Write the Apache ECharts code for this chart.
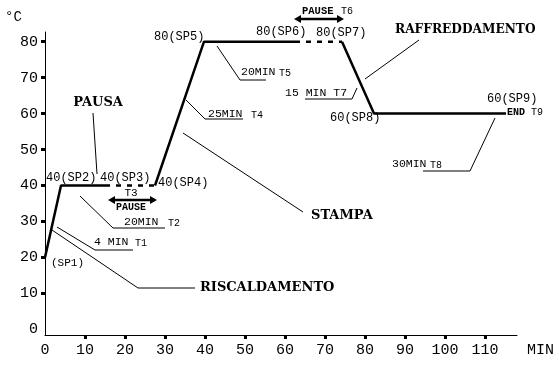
<!DOCTYPE html>
<html>
<head>
<meta charset="utf-8">
<script src="https://cdn.jsdelivr.net/npm/echarts@6/dist/echarts.min.js"></script>
<style>
html,body{margin:0;padding:0;background:#fff;}
#chart{width:559px;height:369px;}
</style>
</head>
<body>
<div id="chart"></div>
<script>
// Set points of the thermal cycle (time in MIN, temperature in °C)
const spTime = [0, 4, 15, 27.5, 39.75, 62.5, 74.25, 82.25, 115.25];
const spTemp = [20, 40, 40, 40, 80, 80, 80, 60, 60];
// Runs of set points: solid = process, dashed = pause
const runs = [
  { from: 0, to: 2, dashed: false },
  { from: 2, to: 3, dashed: true },
  { from: 3, to: 5, dashed: false },
  { from: 5, to: 6, dashed: true },
  { from: 6, to: 8, dashed: false }
];
const xTicks = [0, 10, 20, 30, 40, 50, 60, 70, 80, 90, 100, 110];
const yTicks = [0, 10, 20, 30, 40, 50, 60, 70, 80];

const MONO = '"Liberation Mono", monospace';
const SERIF = '"DejaVu Serif", serif';

const chart = echarts.init(document.getElementById('chart'), null, { renderer: 'canvas' });

const series = runs.map(r => {
  const d = [];
  for (let i = r.from; i <= r.to; i++) d.push([spTime[i], spTemp[i]]);
  return {
    type: 'line',
    data: d,
    symbol: 'none',
    silent: true,
    lineStyle: { color: '#000', width: 2.5, type: r.dashed ? [5, 6] : 'solid', cap: 'butt' }
  };
});

function txt(text, x, y, font, align) {
  return { type: 'text', silent: true, style: { text: text, x: x, y: y, font: font, fill: '#000', align: align || 'left', verticalAlign: 'middle' } };
}
function pl(points, w) {
  return { type: 'polyline', silent: true, shape: { points: points }, style: { stroke: '#000', lineWidth: w || 1, fill: null } };
}
function arrow(x1, x2, y) {
  return [
    pl([[x1 + 4, y], [x2 - 4, y]], 2.5),
    { type: 'polygon', silent: true, shape: { points: [[x1, y], [x1 + 7, y - 4], [x1 + 7, y + 4]] }, style: { fill: '#000' } },
    { type: 'polygon', silent: true, shape: { points: [[x2, y], [x2 - 7, y - 4], [x2 - 7, y + 4]] }, style: { fill: '#000' } }
  ];
}

const F_SP = '12px ' + MONO;
const F_SM = '11px ' + MONO;
const F_MIN = '11.5px ' + MONO;
const F_T = '10px ' + MONO;
const F_B = 'bold 13px ' + SERIF;

const graphics = [
  txt('°C', 5, 17, '14px ' + MONO),
  txt('MIN', 527, 350, '15px ' + MONO),
  // set point labels
  txt('(SP1)', 51, 263, F_SM),
  txt('40(SP2)', 46, 178, F_SP),
  txt('40(SP3)', 100, 178, F_SP),
  txt('40(SP4)', 158, 183, F_SP),
  txt('80(SP5)', 154, 37, F_SP),
  txt('80(SP6)', 256, 32, F_SP),
  txt('80(SP7)', 316, 33, F_SP),
  txt('60(SP8)', 330, 118, F_SP),
  txt('60(SP9)', 487, 99, F_SP),
  txt('END', 507, 112, 'bold 10px ' + MONO),
  txt('T9', 531, 112, F_T),
  // PAUSA
  txt('PAUSA', 98, 103, F_B, 'center'),
  pl([[93, 113], [97, 174]]),
  // T3 pause
  txt('T3', 131, 193, F_SM, 'center'),
  txt('PAUSE', 131, 207, 'bold 10px ' + MONO, 'center'),
  // 20MIN T2
  pl([[80, 196], [113, 228], [165, 228]]),
  txt('20MIN', 124, 222, F_MIN),
  txt('T2', 168, 223, F_T),
  // 4 MIN T1
  pl([[57, 227], [95, 250], [133, 250]]),
  txt('4 MIN', 94, 242, F_MIN),
  txt('T1', 135, 243, F_T),
  // RISCALDAMENTO
  pl([[52, 230], [138, 288], [195, 288]]),
  txt('RISCALDAMENTO', 200, 288, F_B),
  // 25MIN T4
  pl([[186, 100], [205, 119], [243, 119]]),
  txt('25MIN', 208, 114, F_MIN),
  txt('T4', 251, 115, F_T),
  // 20MIN T5
  pl([[217, 46], [240, 80], [266, 80]]),
  txt('20MIN', 241, 72, F_MIN),
  txt('T5', 279, 73, F_T),
  // STAMPA
  pl([[183, 133], [303, 212]]),
  txt('STAMPA', 311, 216, F_B),
  // PAUSE T6
  txt('PAUSE', 302, 11, 'bold 10.5px ' + MONO),
  txt('T6', 341, 11, F_T),
  // 15 MIN T7
  txt('15 MIN T7', 285, 93, F_MIN),
  pl([[305, 99], [352, 99], [357, 88]]),
  // RAFFREDDAMENTO
  pl([[365, 79], [419, 40]]),
  txt('RAFFREDDAMENTO', 395, 30, 'bold 12.2px ' + SERIF),
  // 30MIN T8
  pl([[495, 118], [470, 171], [423, 171]]),
  txt('30MIN', 392, 164, F_MIN),
  txt('T8', 430, 165, F_T)
].concat(arrow(108, 157, 200)).concat(arrow(294, 344, 19));

chart.setOption({
  animation: false,
  backgroundColor: '#fff',
  grid: { left: 45, right: 42, top: 32, bottom: 34, containLabel: false },
  xAxis: {
    type: 'value', min: 0, max: 118,
    axisLine: { show: true, onZero: false, lineStyle: { color: '#000', width: 1 } },
    axisTick: { show: true, length: 4, lineStyle: { color: '#000', width: 3 }, customValues: xTicks.slice(1) },
    axisLabel: { customValues: xTicks, color: '#000', fontFamily: MONO, fontSize: 15, margin: 8 },
    splitLine: { show: false }
  },
  yAxis: {
    type: 'value', min: -1.6, max: 82.7,
    axisLine: { show: true, onZero: false, lineStyle: { color: '#000', width: 1 } },
    axisTick: { show: true, length: 4, lineStyle: { color: '#000', width: 3 }, customValues: yTicks.slice(1) },
    axisLabel: { customValues: yTicks, color: '#000', fontFamily: MONO, fontSize: 15, margin: 7 },
    splitLine: { show: false }
  },
  series: series,
  graphic: graphics
});
</script>
</body>
</html>
